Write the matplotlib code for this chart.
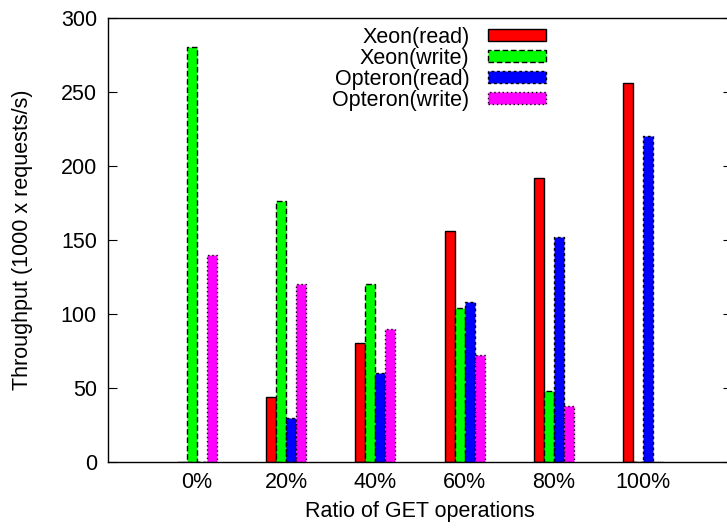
import numpy as np
import matplotlib
matplotlib.use('Agg')
from matplotlib import pyplot as plt

plt.rcParams['font.family'] = ['Liberation Sans', 'DejaVu Sans']

# data
ratios = ['0%', '20%', '40%', '60%', '80%', '100%']
xeon_read = [0, 44, 80, 156, 192, 256]
xeon_write = [280, 176, 120, 104, 48, 0]
opteron_read = [0, 30, 60, 108, 152, 220]
opteron_write = [140, 120, 90, 72, 38, 0]

series = [
    ('Xeon(read)', xeon_read, '#ff0000', '-'),
    ('Xeon(write)', xeon_write, '#00ff00', (0, (4, 2))),
    ('Opteron(read)', opteron_read, '#0000ff', (0, (2, 2))),
    ('Opteron(write)', opteron_write, '#ff00ff', (0, (1, 2))),
]

fs = 15.5

fig = plt.figure(figsize=(7.27, 5.29), dpi=100)
# axes runs a bit past the right edge like the original
ax = fig.add_axes([108/727, 1 - 462/529, 624/727, 444.5/529])

x = np.arange(len(ratios))
w = 0.112
for i, (name, vals, col, ls) in enumerate(series):
    ax.bar(x + (i - 1.5) * w, vals, w, color=col, edgecolor='black',
           linewidth=1, linestyle=ls, label=name)

ax.set_xlim(-1, 6)
ax.set_ylim(0, 300)
ax.set_xticks(x)
ax.set_xticklabels(ratios)
ax.set_yticks(range(0, 301, 50))
ax.tick_params(axis='x', length=0, pad=7, labelsize=fs)
ax.tick_params(axis='y', direction='in', length=6.5, right=True, pad=8, labelsize=fs)
for s in ax.spines.values():
    s.set_linewidth(1)

ax.set_xlabel('Ratio of GET operations', fontsize=fs, labelpad=6)
ax.set_ylabel('Throughput (1000 x requests/s)', fontsize=fs)
ax.yaxis.set_label_coords(-0.12, 0.5)

leg = ax.legend(loc='upper right', bbox_to_anchor=(546/727, 1 - 27/529),
                bbox_transform=fig.transFigure, frameon=False, markerfirst=False,
                fontsize=fs, handlelength=2.7, handleheight=0.47,
                labelspacing=0.0, borderpad=0, borderaxespad=0, handletextpad=0.85)

fig.savefig('out.png', dpi=100)
